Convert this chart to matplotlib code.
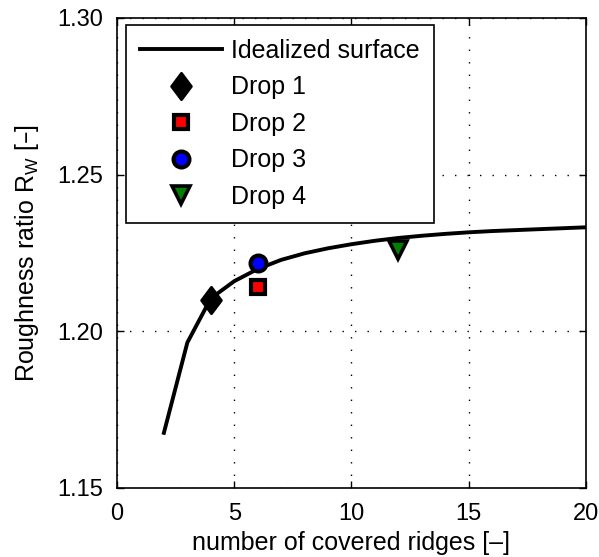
import matplotlib
matplotlib.use("Agg")
import matplotlib.pyplot as plt
from matplotlib.path import Path

plt.rcParams['font.family'] = ['Liberation Sans', 'DejaVu Sans']

# Idealized surface curve
ridges = [2, 3, 4, 5, 6, 7, 8, 9, 10, 11, 12, 13, 14, 15, 16, 17, 18, 19, 20]
ratio = [1.1676, 1.1964, 1.2105, 1.2160, 1.2199, 1.2228, 1.2249, 1.2265, 1.2278,
         1.2289, 1.2298, 1.2305, 1.2311, 1.2316, 1.2320, 1.2323, 1.2326, 1.2329, 1.2332]

# Drops
drop_names = ['Drop 1', 'Drop 2', 'Drop 3', 'Drop 4']
drop_x = [4, 6, 6, 12]
drop_y = [1.210, 1.2142, 1.2217, 1.226]
drop_colors = ['black', 'red', 'blue', 'green']

xticks = [0, 5, 10, 15, 20]
yticks = [1.15, 1.20, 1.25, 1.30]

# marker styles (MATLAB-like elongated diamond)
diamond = Path([(0, 1), (0.75, 0), (0, -1), (-0.75, 0), (0, 1)],
               [Path.MOVETO, Path.LINETO, Path.LINETO, Path.LINETO, Path.CLOSEPOLY])
drop_markers = [diamond, 's', 'o', 'v']
drop_sizes = [19, 9.6, 11.5, 13]
drop_edgew = [2.0, 3.0, 2.9, 2.6]

fig = plt.figure(figsize=(5.99, 5.57), dpi=100)
ax = fig.add_axes([0.1953, 0.1239, 0.7830, 0.8438])

ax.plot(ridges, ratio, color='black', linewidth=2.8, label='Idealized surface', zorder=3)
for name, x, y, m, c, s, ew in zip(drop_names, drop_x, drop_y, drop_markers,
                                   drop_colors, drop_sizes, drop_edgew):
    ax.plot([x], [y], linestyle='none', marker=m, markersize=s, markerfacecolor=c,
            markeredgecolor='black', markeredgewidth=ew, label=name, zorder=4)

ax.set_xlim(0, 20)
ax.set_ylim(1.15, 1.30)
ax.set_xticks(xticks)
ax.set_yticks(yticks)
ax.set_xticklabels([str(t) for t in xticks])
ax.set_yticklabels(['%.2f' % t for t in yticks])
ax.tick_params(direction='in', top=True, right=True, labelsize=17, length=5, width=1)
ax.tick_params(axis='y', pad=10)
ax.tick_params(axis='x', pad=11)
ax.grid(True, linestyle=(0, (1, 8)), color='black', linewidth=1.0)
for sp in ax.spines.values():
    sp.set_linewidth(1.2)

ax.set_xlabel('number of covered ridges [\u2013]', fontsize=18, labelpad=4)
ax.set_ylabel('Roughness ratio R$_\\mathregular{W}$ [\u2013]', fontsize=18, labelpad=12)

leg = ax.legend(loc='upper left', bbox_to_anchor=(0.019, 0.985), borderaxespad=0,
                fontsize=18, frameon=True, fancybox=False, edgecolor='black',
                handlelength=3.3, labelspacing=0.5, borderpad=0.55, handletextpad=0.36,
                numpoints=1)
leg.get_frame().set_linewidth(1.2)
leg.get_frame().set_alpha(1)

fig.savefig('out.png', dpi=100)
